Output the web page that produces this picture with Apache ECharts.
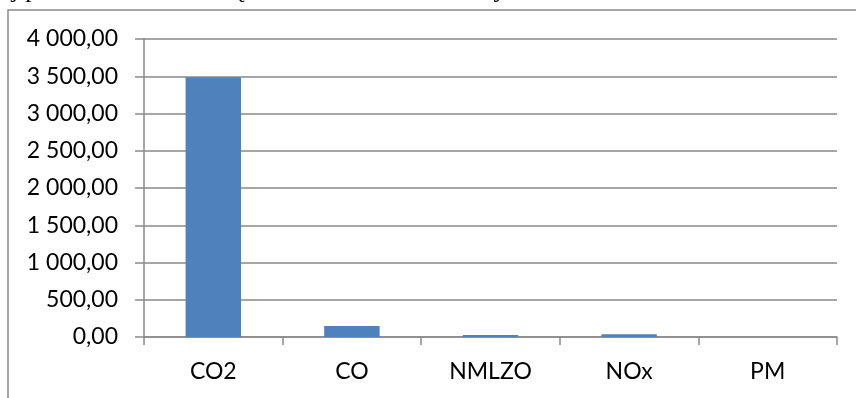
<!DOCTYPE html>
<html>
<head>
<meta charset="utf-8">
<script src="https://cdn.jsdelivr.net/npm/echarts@6/dist/echarts.min.js"></script>
<style>
  html, body { margin: 0; padding: 0; background: #ffffff; }
  #chart { width: 856px; height: 398px; }
</style>
</head>
<body>
<div id="chart"></div>
<script>
// Pollutant categories and their emission values
const categories = ['CO2', 'CO', 'NMLZO', 'NOx', 'PM'];
const emissions = [3485, 148, 28, 38, 1];

// Value axis range
const yMin = 0;
const yMax = 4000;
const yStep = 500;

// Caption line of the surrounding document (partly cut off at the top)
const captionText = 'ej przedstawienie obciążenia zilustrowano na Rysunku 4.3.';

const axisGray = '#898989';
const labelFont = 'Lato';

// "4 000,00" style: space as thousands separator, comma as decimal mark
function formatPl(v) {
  const parts = v.toFixed(2).split('.');
  const intPart = parts[0].replace(/\B(?=(\d{3})+(?!\d))/g, ' ');
  return intPart + ',' + parts[1];
}

const chart = echarts.init(document.getElementById('chart'), null, { renderer: 'canvas' });

chart.setOption({
  animation: false,
  backgroundColor: '#ffffff',
  graphic: [
    {
      type: 'rect',
      shape: { x: 8, y: 10, width: 900, height: 420 },
      style: { fill: 'none', stroke: '#8a8a8a', lineWidth: 1.5 },
      silent: true,
      z: 0
    },
    {
      type: 'text',
      left: 0,
      top: -23,
      style: {
        text: captionText,
        font: '26px "Liberation Serif"',
        fill: '#000000'
      },
      silent: true
    }
  ],
  grid: {
    left: 144,
    right: 19,
    top: 39,
    bottom: 61,
    containLabel: false
  },
  xAxis: {
    type: 'category',
    data: categories,
    boundaryGap: true,
    axisLine: { show: true, lineStyle: { color: axisGray, width: 1.5 } },
    axisTick: { show: true, length: 8, alignWithLabel: false, lineStyle: { color: axisGray, width: 1.5 } },
    axisLabel: {
      color: '#000000',
      fontFamily: labelFont,
      fontSize: 23,
      margin: 23,
      interval: 0
    },
    splitLine: { show: false }
  },
  yAxis: {
    type: 'value',
    min: yMin,
    max: yMax,
    interval: yStep,
    axisLine: { show: true, lineStyle: { color: axisGray, width: 1.5 } },
    axisTick: { show: true, length: 9, lineStyle: { color: axisGray, width: 1.5 } },
    axisLabel: {
      color: '#000000',
      fontFamily: labelFont,
      fontSize: 23,
      margin: 26,
      formatter: formatPl
    },
    splitLine: { show: true, lineStyle: { color: axisGray, width: 1.5 } }
  },
  series: [
    {
      type: 'bar',
      data: emissions,
      barWidth: '40%',
      itemStyle: { color: '#4f81bd' }
    }
  ]
});
</script>
</body>
</html>
